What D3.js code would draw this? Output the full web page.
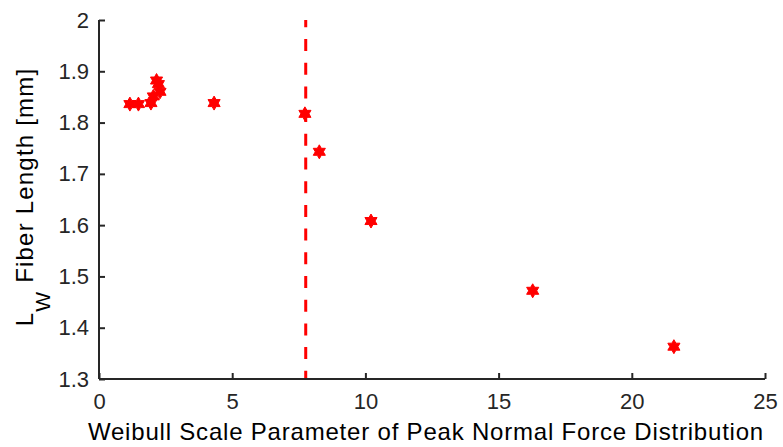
<!DOCTYPE html>
<html>
<head>
<meta charset="utf-8">
<script src="https://cdn.jsdelivr.net/npm/d3@7"></script>
<style>
  html, body { margin: 0; padding: 0; background: #fff; }
  svg { display: block; font-family: "Liberation Sans", Arial, sans-serif; }
</style>
</head>
<body>
<svg id="chart" width="783" height="447"></svg>
<script>
// ---- data ----
const xValues = [1.16, 1.48, 1.95, 2.04, 2.29, 2.16, 2.23, 4.32, 7.73, 8.27, 10.21, 16.28, 21.58];
const yValues = [1.836, 1.836, 1.838, 1.851, 1.860, 1.882, 1.875, 1.838, 1.817, 1.743, 1.608, 1.472, 1.363];
const thresholdX = [7.76];
const xTicks = [0, 5, 10, 15, 20, 25];
const yTicks = [1.3, 1.4, 1.5, 1.6, 1.7, 1.8, 1.9, 2];
const xLabel = "Weibull Scale Parameter of Peak Normal Force Distribution";

// ---- layout ----
const svg = d3.select("#chart");
const mLeft = 99, mRight = 765, mTop = 20, mBottom = 379;
const x = d3.scaleLinear().domain([0, 25]).range([mLeft, mRight]);
const y = d3.scaleLinear().domain([1.3, 2]).range([mBottom, mTop]);
const axisColor = "#262626";

// threshold dashed line
svg.selectAll("line.thr").data(thresholdX).enter().append("line")
  .attr("class", "thr")
  .attr("x1", d => x(d)).attr("x2", d => x(d))
  .attr("y1", y(2)).attr("y2", y(1.3))
  .attr("stroke", "#ff0000").attr("stroke-width", 3)
  .attr("stroke-dasharray", "12,11.7").attr("stroke-dashoffset", 4.7);

// hexagram markers
const R = 7, r = R / Math.sqrt(3);
const hexPts = d3.range(12).map(i => {
  const a = -Math.PI / 2 + i * Math.PI / 6;
  const rr = i % 2 === 0 ? R : r;
  return [rr * Math.cos(a), rr * Math.sin(a)];
});
const hexPath = "M" + hexPts.map(p => p[0].toFixed(2) + "," + p[1].toFixed(2)).join("L") + "Z";

svg.selectAll("path.pt").data(xValues).enter().append("path")
  .attr("class", "pt")
  .attr("d", hexPath)
  .attr("transform", (d, i) => `translate(${x(d)},${y(yValues[i])})`)
  .attr("fill", "#ff0000").attr("stroke", "#ff0000").attr("stroke-width", 1);

// x axis (ticks inward)
const xAxis = d3.axisBottom(x).tickValues(xTicks).tickSize(-6).tickPadding(14).tickFormat(d3.format("d"));
const gx = svg.append("g").attr("transform", `translate(0,${mBottom})`).call(xAxis);
gx.select(".domain").attr("stroke", axisColor).attr("stroke-width", 2).attr("d", `M${mLeft},0H${mRight}`);
gx.selectAll(".tick line").attr("stroke", axisColor).attr("stroke-width", 2);
gx.selectAll(".tick text").attr("fill", "#262626").style("font-size", "22px").attr("dy", "0.71em");

// y axis
const yAxis = d3.axisLeft(y).tickValues(yTicks).tickSize(-6).tickPadding(10).tickFormat(d => d === 2 ? "2" : d3.format(".1f")(d));
const gy = svg.append("g").attr("transform", `translate(${mLeft},0)`).call(yAxis);
gy.select(".domain").attr("stroke", axisColor).attr("stroke-width", 2).attr("d", `M0,${mTop}V${mBottom}`);
gy.selectAll(".tick line").attr("stroke", axisColor).attr("stroke-width", 2);
gy.selectAll(".tick text").attr("fill", "#262626").style("font-size", "22px");

// x label
svg.append("text")
  .attr("x", 426).attr("y", 440)
  .attr("text-anchor", "middle")
  .attr("fill", "#000").style("font-size", "24px").style("letter-spacing", "0.8px")
  .text(xLabel);

// y label with subscript
const yl = svg.append("text")
  .attr("transform", `translate(33,197) rotate(-90)`)
  .attr("text-anchor", "middle")
  .attr("fill", "#000").style("font-size", "24px").style("letter-spacing", "1.2px");
yl.append("tspan").text("L");
yl.append("tspan").attr("dy", 17).style("font-size", "21px").text("W");
yl.append("tspan").attr("dy", -17).text(" Fiber Length [mm]");
</script>
</body>
</html>
